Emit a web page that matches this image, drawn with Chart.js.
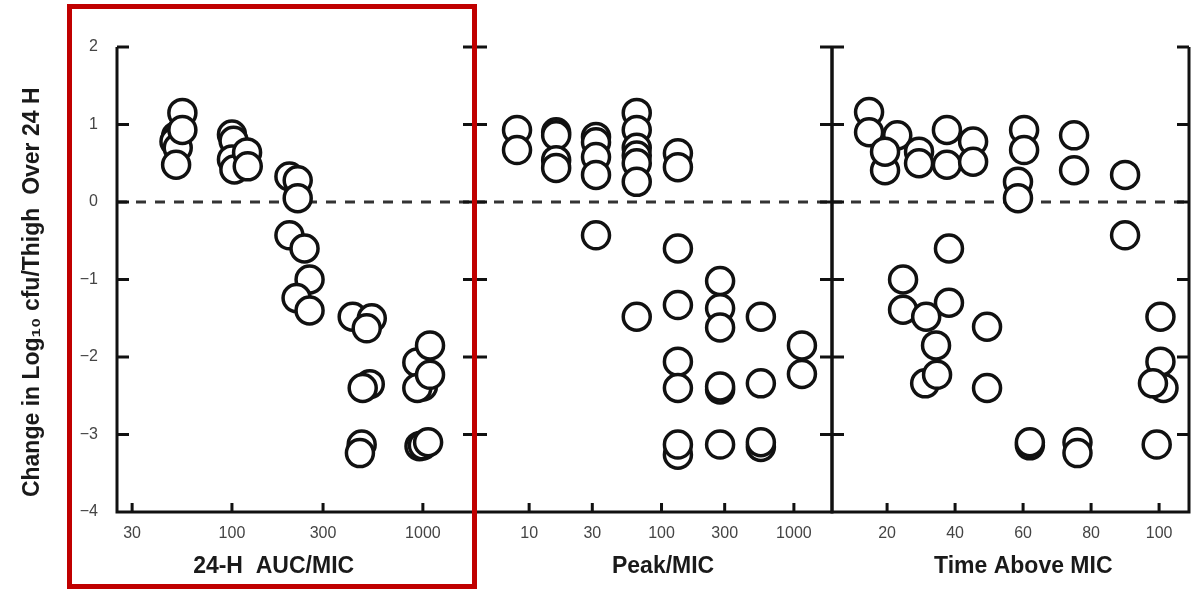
<!DOCTYPE html>
<html>
<head>
<meta charset="utf-8">
<script src="https://cdn.jsdelivr.net/npm/chart.js@4.4.1/dist/chart.umd.min.js"></script>
<style>
  body { margin: 0; background: #fff; width: 1202px; height: 590px; position: relative; overflow: hidden; }
  canvas { position: absolute; top: 0; }
  #c1 { left: 0; }
  #c2 { left: 465px; }
  #c3 { left: 822px; }
  .box { position: absolute; left: 67px; top: 4px; width: 400px; height: 575px; border: 5px solid #c00000; }
</style>
</head>
<body>
<canvas id="c1" width="485" height="590"></canvas>
<canvas id="c2" width="377" height="590"></canvas>
<canvas id="c3" width="377" height="590"></canvas>
<div class="box"></div>
<script>
// tick values
const yTicks = [-4, -3, -2, -1, 0, 1, 2]
const aucTicks = [30, 100, 300, 1000]
const peakTicks = [10, 30, 100, 300, 1000]
const timeTicks = [20, 40, 60, 80, 100]

// 24-H AUC/MIC panel
const aucX = [51, 50, 52, 51, 55, 55, 100, 102, 100, 103, 120, 121, 200, 221, 221, 200, 240, 255, 218, 255,
  429, 540, 508, 527, 484, 478, 468, 935, 1000, 935, 1090, 1090, 960, 1000, 1065]
const aucY = [0.85, 0.78, 0.7, 0.48, 1.15, 0.93, 0.87, 0.79, 0.55, 0.42, 0.64, 0.46, 0.33, 0.28, 0.05, -0.43, -0.6, -1.0, -1.24, -1.4,
  -1.48, -1.5, -1.63, -2.35, -2.4, -3.13, -3.24, -2.07, -2.38, -2.4, -1.85, -2.23, -3.15, -3.14, -3.1]

// Peak/MIC panel
const peakX = [8.1, 8.1, 16, 16, 16, 16, 32, 32, 32, 32, 32, 65, 65, 65, 65, 65, 65, 65,
  133, 133, 133, 133, 133, 133, 133, 133, 277, 277, 277, 277, 277, 277, 563, 563, 563, 563, 1150, 1150]
const peakY = [0.93, 0.67, 0.9, 0.86, 0.54, 0.44, 0.84, 0.77, 0.58, 0.35, -0.43, 1.15, 0.93, 0.7, 0.6, 0.5, 0.26, -1.48,
  0.63, 0.45, -0.6, -1.33, -2.06, -2.4, -3.26, -3.13, -1.02, -1.37, -1.62, -2.42, -2.38, -3.13, -1.48, -2.34, -3.16, -3.1, -1.85, -2.22]

// Time Above MIC panel
const timeX = [14.7, 14.7, 23, 19.4, 19.4, 29.4, 29.4, 37.6, 37.6, 45.3, 45.3, 60.3, 60.3, 58.5, 58.5, 75, 75, 90, 90,
  38.2, 24.7, 24.7, 38.2, 31.5, 49.4, 34.4, 31.2, 34.7, 49.4, 62, 62, 76, 76, 99.3, 100.4, 100.4, 101.3, 98.2]
const timeY = [1.16, 0.9, 0.86, 0.41, 0.65, 0.65, 0.5, 0.93, 0.48, 0.78, 0.52, 0.93, 0.67, 0.26, 0.05, 0.86, 0.41, 0.35, -0.43,
  -0.6, -1.0, -1.39, -1.3, -1.48, -1.61, -1.85, -2.34, -2.23, -2.4, -3.14, -3.1, -3.1, -3.24, -3.13, -1.48, -2.06, -2.4, -2.34]

const ink = '#111'
const tickFont = { family: 'Liberation Sans, Arial, sans-serif', size: 16 }
const titleFont = { family: 'Liberation Sans, Arial, sans-serif', size: 23, weight: 'bold' }

// axis lines with inward tick marks
const frame = {
  id: 'frame',
  afterDraw(chart) {
    const { ctx, chartArea: a, scales: { x, y } } = chart
    ctx.save()
    ctx.strokeStyle = ink
    ctx.lineWidth = 3
    ctx.beginPath()
    ctx.moveTo(a.left, a.top); ctx.lineTo(a.left, a.bottom)
    ctx.moveTo(a.right, a.top); ctx.lineTo(a.right, a.bottom)
    ctx.moveTo(a.left - 1.5, a.bottom); ctx.lineTo(a.right + 1.5, a.bottom)
    y.ticks.forEach(t => {
      const py = y.getPixelForValue(t.value)
      ctx.moveTo(a.left, py); ctx.lineTo(a.left + 12, py)
      ctx.moveTo(a.right, py); ctx.lineTo(a.right - 12, py)
    })
    x.ticks.forEach(t => {
      const px = x.getPixelForValue(t.value)
      ctx.moveTo(px, a.bottom); ctx.lineTo(px, a.bottom - 9)
    })
    ctx.stroke()
    ctx.restore()
  }
}

function panel(id, xs, ys, xType, xMin, xMax, xTicks, xTitle, first) {
  const pts = xs.map((v, i) => ({ x: v, y: ys[i] }))
  return new Chart(document.getElementById(id), {
    type: 'scatter',
    data: {
      datasets: [{
        data: pts,
        order: 0,
        pointRadius: 13.5,
        pointHoverRadius: 13.5,
        pointBackgroundColor: '#fff',
        pointBorderColor: ink,
        pointBorderWidth: 3.5
      }, {
        type: 'line',
        data: [{ x: xMin, y: 0 }, { x: xMax, y: 0 }],
        order: 1,
        borderColor: '#333',
        borderWidth: 3,
        borderDash: [10, 9],
        pointRadius: 0
      }]
    },
    options: {
      responsive: false,
      animation: false,
      events: [],
      layout: { autoPadding: false, padding: { top: 47, right: 10, left: first ? 0 : 10, bottom: 0 } },
      plugins: { legend: { display: false }, tooltip: { enabled: false } },
      scales: {
        x: {
          type: xType,
          min: xMin,
          max: xMax,
          afterBuildTicks: s => { s.ticks = xTicks.map(v => ({ value: v })) },
          afterFit: s => { s.height = 78 },
          grid: { display: false, drawTicks: false },
          border: { display: false },
          ticks: { font: tickFont, color: '#444', padding: 12, maxRotation: 0, autoSkip: false,
            callback: v => String(v) },
          title: { display: true, text: xTitle, font: titleFont, color: '#1a1a1a', padding: { top: 0, bottom: 10 } }
        },
        y: {
          display: first,
          min: -4,
          max: 2,
          afterBuildTicks: s => { s.ticks = yTicks.map(v => ({ value: v })) },
          afterFit: s => { s.width = first ? 117 : 0 },
          grid: { display: false, drawTicks: false },
          border: { display: false },
          ticks: { font: tickFont, color: '#444', padding: 19,
            callback: v => String(v).replace('-', '\u2212') },
          title: { display: true, text: 'Change in Log\u2081\u2080 cfu/Thigh  Over 24 H    ', font: titleFont,
            color: '#1a1a1a', padding: { top: 19, bottom: 0 } }
        }
      }
    },
    plugins: [frame]
  })
}

panel('c1', aucX, aucY, 'logarithmic', 25, 1875, aucTicks, '24-H  AUC/MIC       ', true)
panel('c2', peakX, peakY, 'logarithmic', 3.9, 1940, peakTicks, '   Peak/MIC', false)
panel('c3', timeX, timeY, 'linear', 3.8, 108.8, timeTicks, '    Time Above MIC', false)
</script>
</body>
</html>
